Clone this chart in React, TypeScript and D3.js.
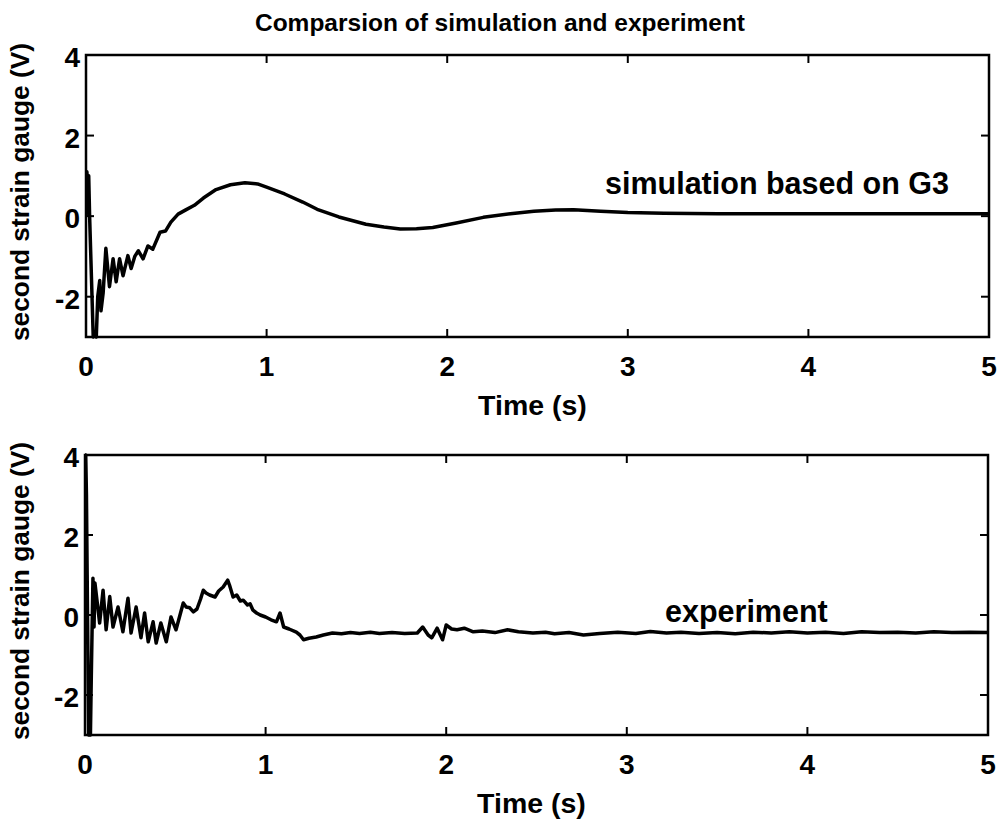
import React from "react";
import * as d3 from "d3";

const title = "Comparsion of simulation and experiment";
const xLabel = "Time (s)";
const yLabel = "second strain gauge (V)";
const xTicks = [0, 1, 2, 3, 4, 5];
const yTicks = [-2, 0, 2, 4];
const xDomain = [0, 5];
const yDomain = [-3, 4];

// simulation based on G3 : [time, volts]
const simTime = [
  0, 0.005, 0.01, 0.015, 0.02, 0.03, 0.04, 0.05, 0.057, 0.065, 0.076, 0.083, 0.095,
  0.11, 0.13, 0.15, 0.167, 0.186, 0.205, 0.232, 0.25, 0.27, 0.29, 0.316, 0.343, 0.37,
  0.41, 0.44, 0.47, 0.51, 0.55, 0.6, 0.65, 0.72, 0.8, 0.88, 0.95, 1.0, 1.1, 1.2, 1.28,
  1.4, 1.55, 1.65, 1.74, 1.83, 1.92, 2.05, 2.2, 2.35, 2.48, 2.6, 2.7, 2.85, 3.0, 3.2,
  3.5, 4.0, 4.5, 5.0,
];
const simValue = [
  0, 1.1, 0.6, 1.0, 0.0, -1.5, -3.0, -2.9, -3.0, -2.0, -1.6, -2.35, -1.9,
  -0.8, -1.75, -1.06, -1.63, -1.06, -1.48, -0.98, -1.3, -1.0, -0.86, -1.06, -0.74, -0.82,
  -0.4, -0.37, -0.15, 0.05, 0.15, 0.27, 0.45, 0.66, 0.78, 0.83, 0.8, 0.72, 0.55, 0.35, 0.17,
  -0.02, -0.2, -0.27, -0.32, -0.31, -0.28, -0.17, -0.03, 0.06, 0.12, 0.15, 0.16, 0.12, 0.09, 0.07,
  0.06, 0.06, 0.06, 0.06,
];

// experiment : [time, volts]
const expTime = [
  0, 0.004, 0.008, 0.012, 0.016, 0.02, 0.025, 0.03, 0.035, 0.044, 0.05, 0.055, 0.081,
  0.1, 0.117, 0.137, 0.155, 0.183, 0.21, 0.238, 0.255, 0.283, 0.31, 0.33, 0.35, 0.377,
  0.394, 0.42, 0.45, 0.476, 0.504, 0.544, 0.56, 0.58, 0.6, 0.62, 0.64, 0.655, 0.67,
  0.69, 0.72, 0.74, 0.765, 0.79, 0.8, 0.82, 0.84, 0.86, 0.876, 0.9, 0.914, 0.93, 0.95,
  0.97, 1.0, 1.03, 1.06, 1.08, 1.1, 1.13, 1.17, 1.19, 1.21, 1.24, 1.28, 1.32, 1.37,
  1.42, 1.47, 1.52, 1.58, 1.63, 1.7, 1.77, 1.84, 1.87, 1.9, 1.92, 1.95, 1.98, 2.0,
  2.03, 2.06, 2.1, 2.15, 2.2, 2.27, 2.34, 2.4, 2.48, 2.55, 2.6, 2.68, 2.76, 2.85,
  2.95, 3.05, 3.13, 3.22, 3.3, 3.4, 3.5, 3.6, 3.7, 3.8, 3.9, 4.0, 4.1, 4.2, 4.3,
  4.4, 4.5, 4.6, 4.7, 4.8, 4.9, 5.0,
];
const expValue = [
  0, 4.0, 3.0, 1.0, -1.0, -3.0, -2.0, -3.0, -1.5, 0.92, -0.3, 0.8, -0.2,
  0.62, -0.37, 0.46, -0.3, 0.2, -0.42, 0.42, -0.45, 0.2, -0.57, 0.05, -0.67, -0.17,
  -0.7, -0.2, -0.67, -0.05, -0.37, 0.3, 0.2, 0.18, 0.08, 0.15, 0.4, 0.62, 0.55,
  0.5, 0.45, 0.6, 0.7, 0.87, 0.75, 0.45, 0.5, 0.35, 0.37, 0.25, 0.28, 0.12, 0.05,
  0.0, -0.05, -0.12, -0.17, 0.05, -0.3, -0.35, -0.43, -0.5, -0.62, -0.58, -0.55, -0.5, -0.45,
  -0.47, -0.44, -0.46, -0.43, -0.46, -0.44, -0.46, -0.45, -0.3, -0.5, -0.57, -0.33, -0.62, -0.25,
  -0.35, -0.37, -0.33, -0.42, -0.4, -0.44, -0.37, -0.42, -0.45, -0.43, -0.47, -0.44, -0.5, -0.46,
  -0.43, -0.46, -0.41, -0.45, -0.43, -0.46, -0.44, -0.47, -0.43, -0.45, -0.42, -0.45, -0.43, -0.46, -0.42,
  -0.44, -0.43, -0.45, -0.42, -0.44, -0.43, -0.44,
];

const FONT = "'Liberation Sans', Arial, Helvetica, sans-serif";

type PanelProps = {
  top: number;
  bottom: number;
  left: number;
  right: number;
  times: number[];
  values: number[];
  note: string;
  noteX: number;
  noteY: number;
  id: string;
};

function Panel({ top, bottom, left, right, times, values, note, noteX, noteY, id }: PanelProps) {
  const x = d3.scaleLinear().domain(xDomain).range([left, right]);
  const y = d3.scaleLinear().domain(yDomain).range([bottom, top]);
  const pts = times.map((t, i) => [t, values[i]] as [number, number]);
  const line = d3
    .line<[number, number]>()
    .x((d) => x(d[0]))
    .y((d) => y(d[1]));
  const tick = 8;
  return (
    <g>
      <defs>
        <clipPath id={id}>
          <rect x={left} y={top - 2} width={right - left} height={bottom - top + 4} />
        </clipPath>
      </defs>
      <path
        d={line(pts) || ""}
        fill="none"
        stroke="#000"
        strokeWidth={3.5}
        strokeLinejoin="round"
        clipPath={`url(#${id})`}
      />
      <rect x={left} y={top} width={right - left} height={bottom - top} fill="none" stroke="#000" strokeWidth={2.5} />
      {xTicks.map((t) => (
        <g key={"x" + t}>
          <line x1={x(t)} x2={x(t)} y1={bottom} y2={bottom - tick} stroke="#000" strokeWidth={2} />
          <line x1={x(t)} x2={x(t)} y1={top} y2={top + tick} stroke="#000" strokeWidth={2} />
          <text
            x={x(t)}
            y={bottom + 39}
            textAnchor="middle"
            fontSize={28}
            fontWeight="bold"
            fontFamily={FONT}
          >
            {t}
          </text>
        </g>
      ))}
      {yTicks.map((v) => (
        <g key={"y" + v}>
          <line x1={left} x2={left + tick} y1={y(v)} y2={y(v)} stroke="#000" strokeWidth={2} />
          <line x1={right} x2={right - tick} y1={y(v)} y2={y(v)} stroke="#000" strokeWidth={2} />
          <text
            x={left - 6}
            y={y(v) + 12}
            textAnchor="end"
            fontSize={28}
            fontWeight="bold"
            fontFamily={FONT}
          >
            {v}
          </text>
        </g>
      ))}
      <text
        x={(left + right) / 2 - 5}
        y={bottom + 78}
        textAnchor="middle"
        fontSize={28.5}
        fontWeight="bold"
        fontFamily={FONT}
      >
        {xLabel}
      </text>
      <text
        transform={`translate(29, ${(top + bottom) / 2 - 4}) rotate(-90)`}
        textAnchor="middle"
        fontSize={26.3}
        fontWeight="bold"
        fontFamily={FONT}
      >
        {yLabel}
      </text>
      <text x={noteX} y={noteY} fontSize={30.5} fontWeight="bold" fontFamily={FONT}>
        {note}
      </text>
    </g>
  );
}

export default function App() {
  return (
    <div style={{ position: "absolute", left: 0, top: 0 }}>
      <svg width={999} height={821} style={{ display: "block", background: "#fff" }}>
        <text
          x={500}
          y={31}
          textAnchor="middle"
          fontSize={24.5}
          fontWeight="bold"
          fontFamily={FONT}
        >
          {title}
        </text>
        <Panel
          id="clipTop"
          top={55}
          bottom={337}
          left={86}
          right={989}
          times={simTime}
          values={simValue}
          note="simulation based on G3"
          noteX={605}
          noteY={194}
        />
        <Panel
          id="clipBottom"
          top={455}
          bottom={735}
          left={85}
          right={988}
          times={expTime}
          values={expValue}
          note="experiment"
          noteX={665}
          noteY={622}
        />
      </svg>
    </div>
  );
}
